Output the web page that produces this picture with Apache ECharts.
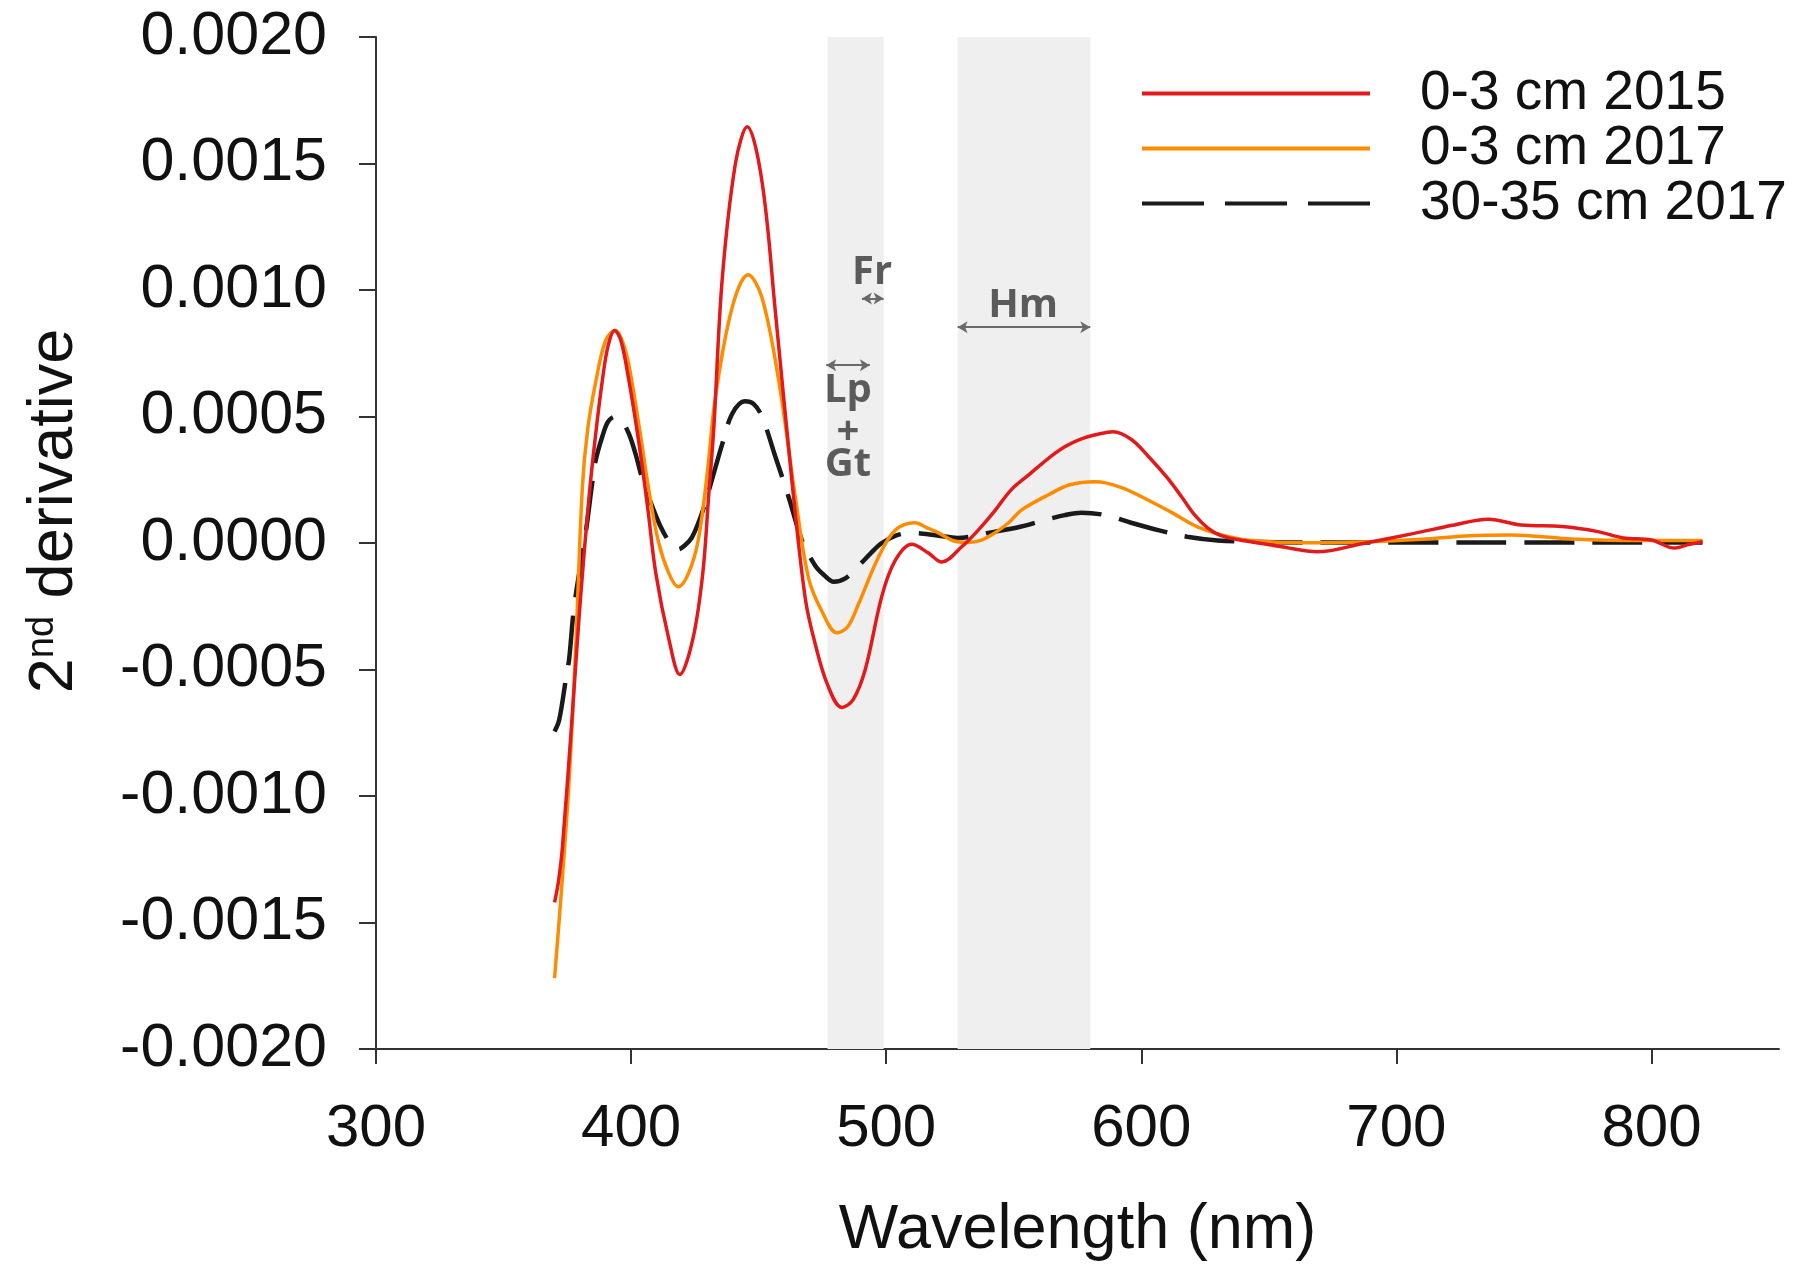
<!DOCTYPE html>
<html>
<head>
<meta charset="utf-8">
<script src="https://cdn.jsdelivr.net/npm/echarts@6/dist/echarts.min.js"></script>
<style>
  html, body { margin: 0; padding: 0; background: #fff; }
  #chart { width: 1800px; height: 1276px; }
</style>
</head>
<body>
<div id="chart"></div>
<script>
// 0-3 cm 2015
const wl2015 = [370, 371.5, 373.1, 377, 380, 383.5, 386, 388.7, 391, 393.6, 396, 399, 403, 406.5, 409.7, 414.8, 419.1, 424.2, 428.1, 430.5, 432.4, 435.7, 440.9, 445.5, 451.3, 456.6, 463, 468.3, 472.2, 477, 482.6, 487, 491.8, 498.3, 503.5, 510, 516.6, 521.8, 529.6, 536, 542, 549, 556, 563, 570, 576, 583, 589, 596, 603, 610, 616, 621, 626, 631, 637, 646, 655, 669, 687, 707, 722, 736, 749, 765, 779, 789, 800, 809, 815, 820]
const val2015 = [-0.00142, -0.00134, -0.0012, -0.00067, -0.00024, 0.00018, 0.00042, 0.00064, 0.00078, 0.00084, 0.00080, 0.00065, 0.00040, 0.00014, -0.00012, -0.00038, -0.00052, -0.00038, -0.00012, 0.0002, 0.00045, 0.00104, 0.00150, 0.001645, 0.00143, 0.00091, 0.00025, -0.00022, -0.00040, -0.00056, -0.00065, -0.00062, -0.00050, -0.00021, -0.00007, -0.000005, -0.00004, -0.000075, -0.000015, 0.00005, 0.00012, 0.00021, 0.00027, 0.00033, 0.00038, 0.00041, 0.00043, 0.00044, 0.00041, 0.00034, 0.00026, 0.00018, 0.00011, 0.00006, 0.00003, 0.000015, 0, -0.000015, -0.000035, -0.000002, 0.000038, 0.00007, 0.000094, 0.000071, 0.000065, 0.000045, 0.00002, 0.000012, -0.00002, -0.000005, 0.000005]

// 0-3 cm 2017
const wl2017 = [370, 372.5, 375.7, 378.3, 380.9, 383, 386.2, 390, 393.8, 396.5, 399.2, 404.4, 406.3, 410.6, 414.8, 418.5, 422.5, 426.3, 429.8, 433.1, 439.6, 445.9, 451.3, 457.9, 464.4, 469.6, 474.8, 480.7, 485, 489.2, 497, 503.5, 511.3, 516, 520.5, 526, 532, 537, 542.6, 548, 553, 563.5, 572, 582, 592, 602.6, 612, 622, 636.5, 650, 668, 690, 710, 727, 745, 767, 779, 800, 820]
const val2017 = [-0.00172, -0.0014, -0.00094, -0.00041, 0.00022, 0.00045, 0.00064, 0.00080, 0.00084, 0.00080, 0.00070, 0.00038, 0.00025, 0.00001, -0.00012, -0.000173, -0.00012, 0.00001, 0.00027, 0.00058, 0.00093, 0.00106, 0.00097, 0.00064, 0.00018, -0.00014, -0.00027, -0.000355, -0.00033, -0.00024, -0.000055, 0.00005, 0.00008, 0.00006, 0.00004, 0.00001, 0.000002, 0.00001, 0.00004, 0.00008, 0.00013, 0.00019, 0.00023, 0.000242, 0.00022, 0.00017, 0.00012, 0.000064, 0.00002, 0.000005, 0.000001, 0.000005, 0.000015, 0.000028, 0.000032, 0.000017, 0.000012, 0.00001, 0.00001]

// 30-35 cm 2017
const wlDeep = [370, 371.8, 374.4, 375.7, 377.7, 382.2, 384.8, 386.2, 388.7, 391, 393.6, 396.5, 399.2, 401.8, 404.5, 407.7, 411.6, 415, 418.5, 421, 423.7, 426, 428.5, 433.1, 435.7, 439.6, 444.6, 448, 451.3, 456.6, 461.8, 467, 472.2, 476, 479.4, 484, 489.2, 494, 498.3, 504, 510, 520, 528, 540, 553, 562, 570, 576.5, 586, 596, 607, 618, 630, 642, 660, 700, 750, 800, 820]
const valDeep = [-0.000745, -0.0007, -0.00054, -0.00046, -0.00025, 0.00004, 0.00024, 0.00033, 0.00042, 0.00048, 0.000499, 0.00048, 0.00043, 0.00035, 0.00025, 0.00016, 0.000064, 0.000005, -0.000025, -0.00001, 0.00002, 0.00007, 0.00014, 0.0003, 0.00039, 0.00051, 0.00056, 0.00055, 0.0005, 0.00034, 0.00018, 0.00001, -0.00009, -0.00013, -0.000153, -0.00014, -0.00009, -0.00004, 0, 0.00003, 0.00004, 0.00003, 0.00002, 0.00004, 0.000065, 0.00009, 0.00011, 0.00012, 0.00011, 0.00008, 0.00005, 0.000025, 0.00001, 0.000005, 0.000002, 0.000002, 0.000002, 0.000002, 0.000002]

const seriesNames = ['0-3 cm 2015', '0-3 cm 2017', '30-35 cm 2017']
const xTicks = [300, 400, 500, 600, 700, 800]
const yTicks = [-0.002, -0.0015, -0.001, -0.0005, 0, 0.0005, 0.001, 0.0015, 0.002]

// shaded bands (nm)
const bandLpGt = [477, 499]
const bandHm = [528, 580]

const font = 'Liberation Sans, Arial, sans-serif'
const annoColor = '#5b5b5b'

// legend icons: solid bar and three dashes
const solidIcon = 'path://M0,0H228V4H0Z'
const dashIcon = 'path://M0,0H62V4H0Z M83,0H145V4H83Z M166,0H228V4H166Z'

function pairs (xs, ys) {
  return xs.map((x, i) => [x, ys[i]])
}

const myChart = echarts.init(document.getElementById('chart'))

let option = {
  animation: false,
  grid: { left: 376, right: 21, top: 37, bottom: 227 },
  legend: {
    orient: 'vertical',
    left: 1137,
    top: 61,
    itemWidth: 228,
    itemHeight: 4.5,
    itemGap: 0,
    data: [
      { name: seriesNames[0], icon: solidIcon },
      { name: seriesNames[1], icon: solidIcon },
      { name: seriesNames[2], icon: dashIcon }
    ],
    textStyle: {
      fontFamily: font,
      fontSize: 55,
      lineHeight: 52,
      color: '#111',
      padding: [0, 0, 0, 45]
    }
  },
  xAxis: {
    type: 'value',
    min: 300,
    max: 850,
    interval: 100,
    name: 'Wavelength (nm)',
    nameLocation: 'middle',
    nameGap: 150,
    nameTextStyle: { fontFamily: font, fontSize: 63, color: '#111' },
    splitLine: { show: false },
    axisLine: { onZero: false, lineStyle: { color: '#333', width: 2 } },
    axisTick: { customValues: xTicks, length: 15, lineStyle: { color: '#333', width: 2 } },
    axisLabel: { customValues: xTicks, margin: 50, fontFamily: font, fontSize: 60, color: '#111' }
  },
  yAxis: {
    type: 'value',
    min: -0.002,
    max: 0.002,
    interval: 0.0005,
    splitLine: { show: false },
    axisLine: { show: true, onZero: false, lineStyle: { color: '#333', width: 2 } },
    axisTick: { show: true, customValues: yTicks, length: 17, lineStyle: { color: '#333', width: 2 } },
    axisLabel: {
      customValues: yTicks,
      margin: 49,
      fontFamily: font,
      fontSize: 61,
      color: '#111',
      formatter: v => v.toFixed(4)
    }
  },
  graphic: [
    {
      type: 'text',
      x: 55,
      y: 511,
      rotation: Math.PI / 2,
      style: {
        text: '{a|2}{b|nd}{a| derivative}',
        align: 'center',
        verticalAlign: 'middle',
        rich: {
          a: { fontFamily: font, fontSize: 63, fill: '#111' },
          b: { fontFamily: font, fontSize: 38, fill: '#111', verticalAlign: 'top' }
        }
      }
    }
  ],
  series: [
    {
      // 背景带和标注
      name: 'bands',
      type: 'line',
      data: [],
      z: 1,
      markArea: {
        silent: true,
        itemStyle: { color: '#efefef' },
        data: [
          [{ xAxis: bandLpGt[0] }, { xAxis: bandLpGt[1] }],
          [{ xAxis: bandHm[0] }, { xAxis: bandHm[1] }]
        ]
      },
      markLine: {
        silent: true,
        symbol: ['arrow', 'arrow'],
        symbolSize: [9, 10],
        label: { show: false },
        lineStyle: { color: '#6a6a6a', width: 2, type: 'solid' },
        data: [
          [{ coord: [490.5, 0.000966] }, { coord: [499, 0.000966] }],
          [{ coord: [528, 0.000853] }, { coord: [580, 0.000853] }],
          [{ coord: [476.5, 0.000703] }, { coord: [493.6, 0.000703] }]
        ]
      },
      markPoint: {
        silent: true,
        symbol: 'circle',
        symbolSize: 0,
        label: {
          show: true,
          position: 'inside',
          formatter: '{b}',
          fontFamily: 'Open Sans, sans-serif',
          fontWeight: 'bold',
          fontSize: 40,
          color: annoColor
        },
        data: [
          { name: 'Fr', coord: [494.5, 0.00107] },
          { name: 'Hm', coord: [553.7, 0.00094] },
          { name: 'Lp', coord: [485, 0.000604] },
          { name: '+', coord: [485, 0.000438] },
          { name: 'Gt', coord: [485, 0.000308] }
        ]
      }
    },
    {
      name: seriesNames[0],
      type: 'line',
      symbol: 'none',
      smooth: 0.35,
      z: 4,
      lineStyle: { color: '#e31a1c', width: 3.5 },
      itemStyle: { color: '#e31a1c' },
      data: pairs(wl2015, val2015)
    },
    {
      name: seriesNames[1],
      type: 'line',
      symbol: 'none',
      smooth: 0.35,
      z: 3,
      lineStyle: { color: '#ff8c00', width: 3.5 },
      itemStyle: { color: '#ff8c00' },
      data: pairs(wl2017, val2017)
    },
    {
      name: seriesNames[2],
      type: 'line',
      symbol: 'none',
      smooth: 0.35,
      z: 2,
      lineStyle: { color: '#1a1a1a', width: 4.5, type: [50, 18] },
      itemStyle: { color: '#1a1a1a' },
      data: pairs(wlDeep, valDeep)
    }
  ]
}

myChart.setOption(option)
window.onresize = function () {
  myChart.resize()
}
</script>
</body>
</html>
